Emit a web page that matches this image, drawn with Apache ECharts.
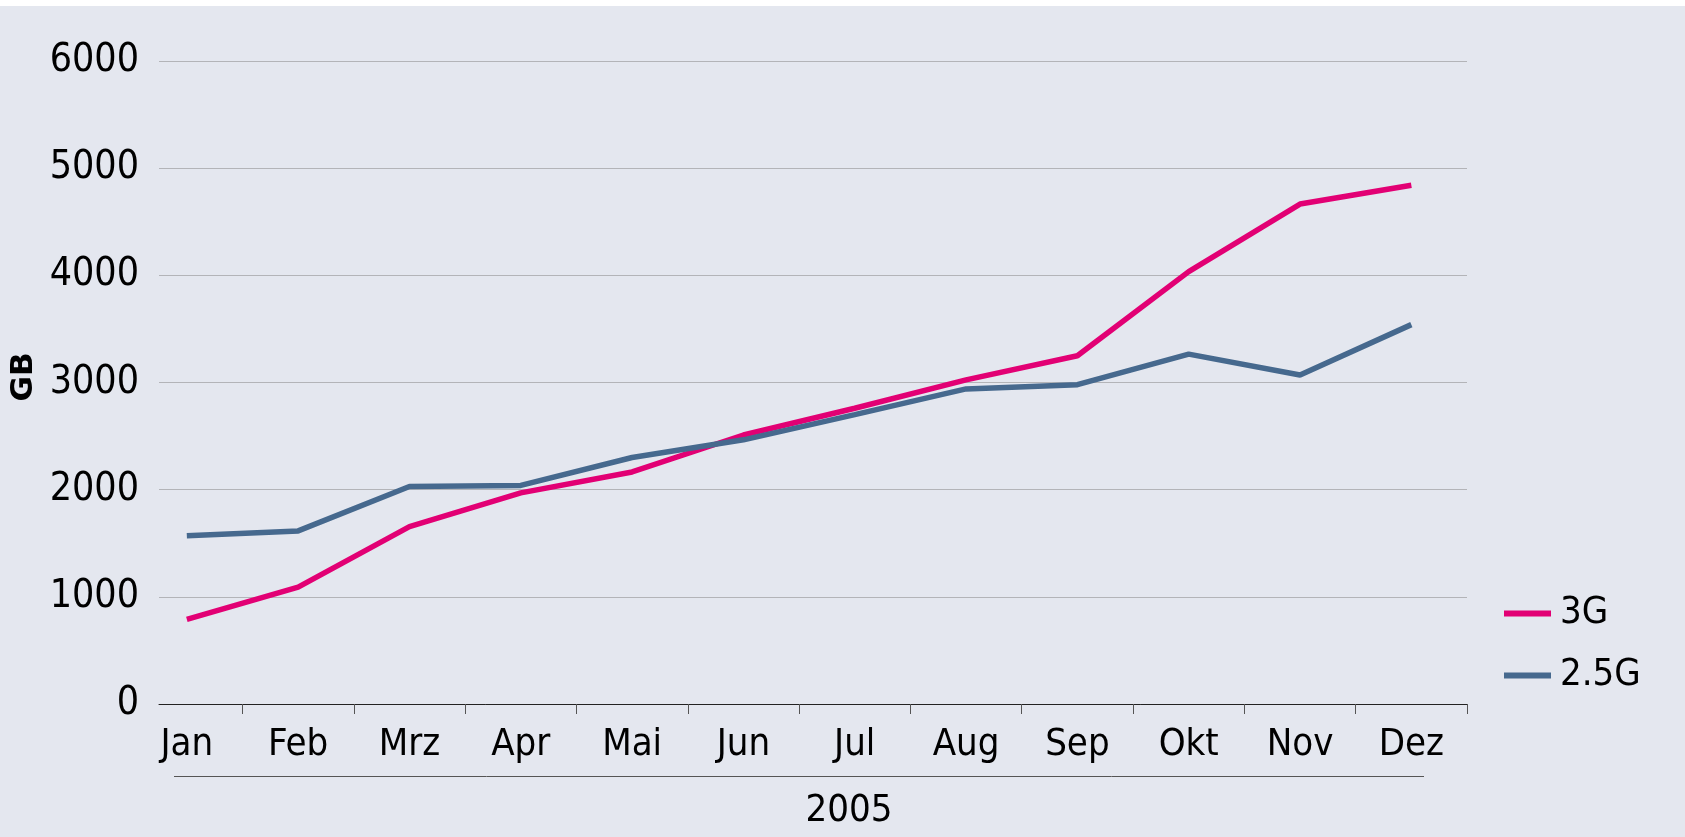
<!DOCTYPE html>
<html>
<head>
<meta charset="utf-8">
<script src="https://cdn.jsdelivr.net/npm/echarts@6/dist/echarts.min.js"></script>
<style>
  html, body { margin: 0; padding: 0; background: #ffffff; }
  #chart { position: absolute; left: 0; top: 6px; width: 1685px; height: 831px; }
</style>
</head>
<body>
<div id="chart"></div>
<script>
const months = ['Jan', 'Feb', 'Mrz', 'Apr', 'Mai', 'Jun', 'Jul', 'Aug', 'Sep', 'Okt', 'Nov', 'Dez'];
const series3G = [790, 1090, 1655, 1970, 2165, 2510, 2760, 3025, 3250, 4035, 4665, 4840];
const series25G = [1570, 1615, 2030, 2040, 2300, 2465, 2700, 2940, 2980, 3265, 3070, 3540];
const yearLabel = '2005';
const yName = 'GB';

const FONT = "'DejaVu Sans Condensed', 'Liberation Sans Narrow', sans-serif";
const chart = echarts.init(document.getElementById('chart'));

chart.setOption({
  backgroundColor: '#E4E7EF',
  animation: false,
  textStyle: { fontFamily: FONT },
  grid: { left: 159, right: 218, top: 55, bottom: 133, containLabel: false },
  legend: {
    data: ['3G', '2.5G'],
    orient: 'vertical',
    left: 1504,
    top: 588,
    padding: 0,
    icon: 'rect',
    itemWidth: 47,
    itemHeight: 6,
    itemGap: 23,
    textStyle: { fontFamily: FONT, fontSize: 38, color: '#000', lineHeight: 39, padding: [0, 0, 0, 4] }
  },
  xAxis: {
    type: 'value',
    min: -0.25,
    max: 11.5,
    axisLine: { show: true, lineStyle: { color: '#222', width: 1 } },
    axisTick: {
      show: true,
      length: 10,
      lineStyle: { color: '#555', width: 1 },
      customValues: months.map((m, i) => i + 0.5)
    },
    axisLabel: {
      customValues: months.map((m, i) => i),
      formatter: v => months[Math.round(v)],
      fontFamily: FONT,
      fontSize: 38,
      color: '#000',
      margin: 22
    },
    splitLine: { show: false }
  },
  yAxis: {
    type: 'value',
    min: 0,
    max: 6000,
    interval: 1000,
    axisLine: { show: false },
    axisTick: { show: false },
    axisLabel: { fontFamily: FONT, fontSize: 39, color: '#000', margin: 20, formatter: v => String(v) },
    splitLine: { show: true, lineStyle: { color: '#B3B4B8', width: 1.2 } }
  },
  graphic: [
    {
      type: 'line',
      shape: { x1: 174, y1: 770.5, x2: 1424, y2: 770.5 },
      style: { stroke: '#555', lineWidth: 1 }
    },
    {
      type: 'text',
      x: 24,
      y: 371,
      rotation: Math.PI / 2,
      style: { text: yName, fontFamily: "'DejaVu Sans', sans-serif", fontWeight: 'bold', fontSize: 31, fill: '#000', align: 'center', verticalAlign: 'middle' }
    },
    {
      type: 'text',
      x: 849,
      y: 805,
      style: { text: yearLabel, fontFamily: FONT, fontSize: 38, fill: '#000', align: 'center', verticalAlign: 'middle' }
    }
  ],
  series: [
    {
      name: '3G',
      type: 'line',
      symbol: 'none',
      data: months.map((m, i) => [i, series3G[i]]),
      lineStyle: { color: '#E20074', width: 5.5 },
      itemStyle: { color: '#E20074' }
    },
    {
      name: '2.5G',
      type: 'line',
      symbol: 'none',
      data: months.map((m, i) => [i, series25G[i]]),
      lineStyle: { color: '#46698E', width: 5.5 },
      itemStyle: { color: '#46698E' }
    }
  ]
});
</script>
</body>
</html>
